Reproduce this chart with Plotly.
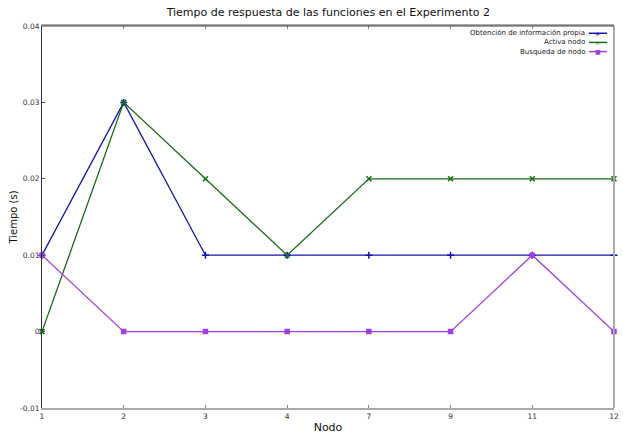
import plotly.graph_objects as go

# Node labels (categorical x axis) and response times in seconds
nodos = ["1", "2", "3", "4", "7", "9", "11", "12"]
obtencion_info = [0.01, 0.03, 0.01, 0.01, 0.01, 0.01, 0.01, 0.01]
activa_nodo = [0.0, 0.03, 0.02, 0.01, 0.02, 0.02, 0.02, 0.02]
busqueda_nodo = [0.01, 0.0, 0.0, 0.0, 0.0, 0.0, 0.01, 0.0]

series_names = ["Obtención de información propia", "Activa nodo", "Busqueda de nodo"]
y_ticks = [-0.01, 0, 0.01, 0.02, 0.03, 0.04]
y_tick_text = ["-0.01", "0", "0.01", "0.02", "0.03", "0.04"]

colors = ["#1414b4", "#176b17", "#a23fe6"]
symbols = ["cross-thin", "x-thin", "square"]
sizes = [5, 5, 4]
legend_glyphs = ["+", "×", "■"]

FONT = "DejaVu Sans"

fig = go.Figure()
for name, vals, col, sym, sz in zip(series_names,
                                    [obtencion_info, activa_nodo, busqueda_nodo],
                                    colors, symbols, sizes):
    fig.add_trace(go.Scatter(
        x=nodos, y=vals, name=name, mode="lines+markers",
        line=dict(color=col, width=1.3),
        marker=dict(symbol=sym, size=sz, color=col,
                    line=dict(color=col, width=1.5)),
        showlegend=False, cliponaxis=False,
    ))

fig.update_layout(
    width=623, height=434,
    margin=dict(l=42, r=9, t=26, b=26, autoexpand=False),
    paper_bgcolor="white", plot_bgcolor="white",
    font=dict(family=FONT, size=8, color="#333"),
    title=dict(text="Tiempo de respuesta de las funciones en el Experimento 2",
               x=0.527, xanchor="center", y=0.972, yanchor="middle",
               font=dict(size=11, color="#111")),
    xaxis=dict(type="category", range=[0, 7], showgrid=False, zeroline=False,
               automargin=False,
               showline=True, linecolor="#aaaaaa", linewidth=2, mirror="ticks",
               ticks="inside", ticklen=3, tickcolor="#888",
               tickfont=dict(size=7.5, color="#333"),
               title=dict(text="Nodo", font=dict(size=11, color="#111"), standoff=6)),
    yaxis=dict(range=[-0.01, 0.04], showgrid=False, zeroline=False,
               automargin=False,
               showline=True, linecolor="#333333", linewidth=1,
               tickvals=y_ticks, ticktext=y_tick_text,
               ticks="inside", ticklen=3, tickcolor="#555",
               tickfont=dict(size=7.5, color="#333"),
               title=dict(text="Tiempo (s)", font=dict(size=10, color="#111"), standoff=0)),
    shapes=[
        # right frame edge (light) and top frame edge (dark)
        dict(type="line", xref="paper", yref="paper", x0=1, x1=1, y0=0, y1=1,
             line=dict(color="#aaaaaa", width=2), layer="above"),
        dict(type="line", xref="paper", yref="paper", x0=0, x1=1, y0=1, y1=1,
             line=dict(color="#444444", width=1), layer="above"),
    ],
)

# Legend in the upper-right corner: text right-aligned, line sample on the right
row_y = [0.981, 0.957, 0.933]
for name, col, glyph, ry in zip(series_names, colors, legend_glyphs, row_y):
    fig.add_annotation(xref="paper", yref="paper", x=0.952, y=ry,
                       xanchor="right", yanchor="middle", showarrow=False,
                       text=name, font=dict(size=7, color="#222"))
    fig.add_shape(type="line", xref="paper", yref="paper",
                  x0=0.956, x1=0.988, y0=ry, y1=ry,
                  line=dict(color=col, width=1.5), layer="above")
    fig.add_annotation(xref="paper", yref="paper", x=0.972, y=ry,
                       xanchor="center", yanchor="middle", showarrow=False,
                       text=glyph, font=dict(size=6, color=col))

fig.write_html("out.html")
